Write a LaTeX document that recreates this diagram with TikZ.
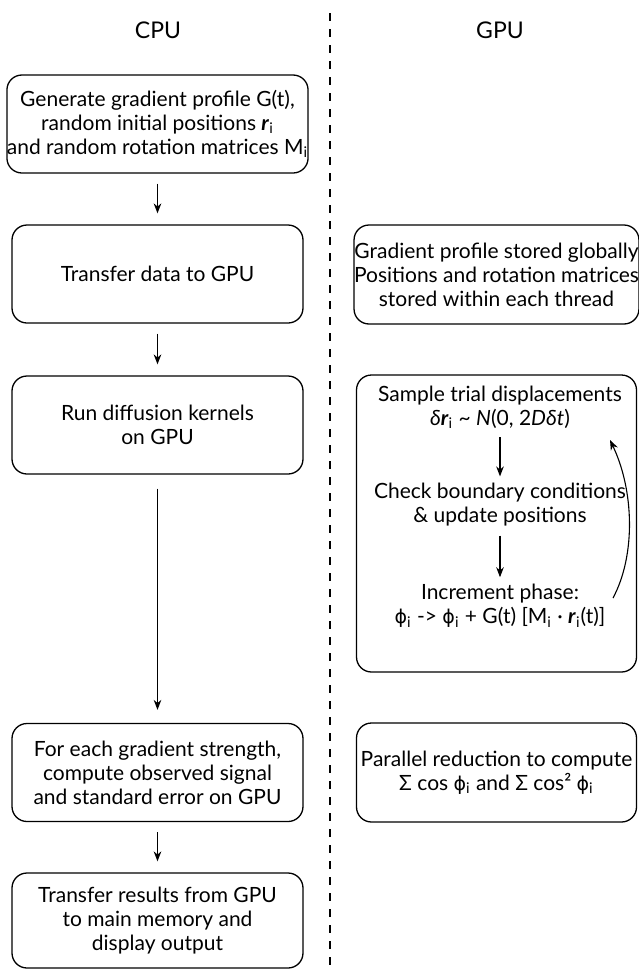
\documentclass[tikz,border=0pt]{standalone}
\usepackage{fontspec}
\setmainfont{Lato}
\newfontfamily\symfont{DejaVu Sans}
\usetikzlibrary{arrows.meta}
\newcommand{\vr}{\textbf{\textit{r}}}
\newcommand{\ix}{\textsubscript{i}}
\newcommand{\ph}{{\symfont\fontsize{9.5}{11}\selectfont ϕ}}

\begin{document}
\begin{tikzpicture}[x=.5pt, y=-.5pt,
  every node/.style={font=\fontsize{10.5}{12}\selectfont, align=center},
  box/.style={draw, rounded corners=7.5pt, line width=.65pt, inner sep=0pt},
  cpubox/.style={box, minimum width=145.5pt, minimum height=49pt},
  gpubox/.style={box, minimum width=140pt, minimum height=49.5pt},
  head/.style={font=\fontsize{11.5}{12}\selectfont},
  flow/.style={-{Stealth[length=5pt,width=3.8pt]}, line width=.55pt, shorten <=5pt, shorten >=5.5pt}]
  \useasboundingbox (0,0) rectangle (638,970);
  % titles and divider
  \node[head] (cpu) at (158,30) {CPU};
  \node[head] (gpu) at (500,30) {GPU};
  \draw[line width=1.1pt, dash pattern=on 4pt off 4pt] (330,13) -- (330,970);
  % CPU side
  \node[cpubox] (gen) at (157.5,124) {Generate gradient profile G(t),\\ random initial positions \vr\ix\\ and random rotation matrices M\ix};
  \node[cpubox] (xfer) at (157.5,274) {Transfer data to GPU};
  \node[cpubox] (run) at (157.5,425) {Run diffusion kernels\\ on GPU};
  \node[cpubox] (sig) at (157.5,772.5) {For each gradient strength,\\ compute observed signal\\ and standard error on GPU};
  \node[cpubox, minimum height=47.5pt] (res) at (157.5,920.5) {Transfer results from GPU\\ to main memory and\\ display output};
  % GPU side
  \node[gpubox] (store) at (496.5,274.5) {Gradient profile stored globally\\ Positions and rotation matrices\\ stored within each thread};
  \node[box, minimum width=140pt, minimum height=148.5pt] (kern) at (496.5,523.5) {};
  \node (sample) at (500,407) {Sample trial displacements\\ \textit{δ}\vr\ix{} \textasciitilde{} \textit{N}(0, 2\textit{Dδt})};
  \node (check) at (500,505) {Check boundary conditions\\ \& update positions};
  \node (incr) at (500,606) {Increment phase:\\ \ph\ix{} -> \ph\ix{} + G(t) [M\ix{} · \vr\ix(t)]};
  \node[gpubox] (reduce) at (496.5,772.5) {Parallel reduction to compute\\ Σ cos \ph\ix{} and Σ cos² \ph\ix};
  \coordinate (lpA) at (613,598);
  \coordinate (lpB) at (610,440);
  % arrows
  \foreach \a/\b in {gen/xfer,xfer/run,sig/res}
    \draw[flow] (\a) -- (\b);
  \draw[flow, shorten <=7pt, shorten >=6.5pt] (run) -- (sig);
  \foreach \a/\b in {sample/check,check/incr}
    \draw[flow, shorten <=1pt, shorten >=0pt] (\a) -- (\b);
  \draw[flow, shorten <=0pt, shorten >=0pt] (lpA) .. controls (636,555) and (634,490) .. (lpB);
\end{tikzpicture}
\end{document}
